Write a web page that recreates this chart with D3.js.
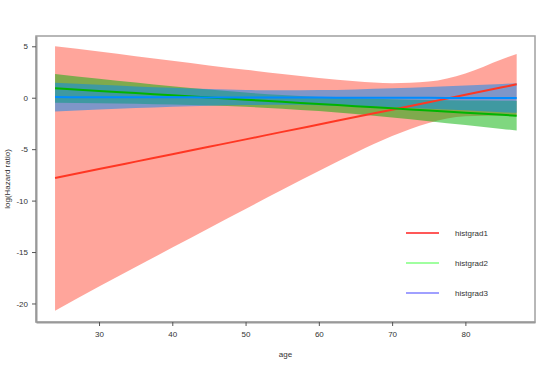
<!DOCTYPE html>
<html>
<head>
<meta charset="utf-8">
<script src="https://cdn.jsdelivr.net/npm/d3@7"></script>
<style>
  body { margin: 0; background: #fff; }
  text { font-family: "Liberation Sans", Arial, sans-serif; fill: #333; }
</style>
</head>
<body>
<div id="chart"></div>
<script>
// ages where the curves were read
const ages = [24, 30, 35, 40, 45, 50, 55, 60, 65, 70, 75, 80, 85, 87];

// histgrad1
const fit1 = [-7.8, -6.93, -6.21, -5.49, -4.77, -4.05, -3.32, -2.6, -1.88, -1.16, -0.44, 0.28, 1.01, 1.3];
const up1 = [5.0, 4.5, 4.04, 3.59, 3.14, 2.71, 2.3, 1.92, 1.59, 1.41, 1.57, 2.36, 3.74, 4.25];
const lo1 = [-20.7, -18.36, -16.46, -14.57, -12.68, -10.81, -8.94, -7.12, -5.35, -3.73, -2.45, -1.8, -1.72, -1.7];

// histgrad2
const fit2 = [0.91, 0.66, 0.45, 0.23, 0.02, -0.19, -0.4, -0.61, -0.82, -1.03, -1.25, -1.45, -1.66, -1.75];
const up2 = [2.31, 1.85, 1.48, 1.12, 0.79, 0.5, 0.26, 0.08, -0.05, -0.14, -0.22, -0.26, -0.29, -0.32];
const lo2 = [-0.49, -0.54, -0.58, -0.66, -0.75, -0.88, -1.06, -1.3, -1.59, -1.92, -2.28, -2.65, -3.03, -3.18];

// histgrad3
const fit3 = [0.06, 0.05, 0.04, 0.04, 0.03, 0.02, 0.02, 0.01, 0.0, 0.0, -0.01, -0.02, -0.03, -0.03];
const up3 = [1.46, 1.25, 1.09, 0.96, 0.84, 0.75, 0.72, 0.74, 0.81, 0.92, 1.04, 1.18, 1.34, 1.4];
const lo3 = [-1.34, -1.15, -1.01, -0.88, -0.78, -0.71, -0.68, -0.72, -0.81, -0.92, -1.06, -1.22, -1.4, -1.46];

const seriesNames = ["histgrad1", "histgrad2", "histgrad3"];
const xTicks = [30, 40, 50, 60, 70, 80];
const yTicks = [5, 0, -5, -10, -15, -20];

const width = 554;
const height = 367;
const plot = { left: 36, right: 535, top: 36, bottom: 322 };

const x = d3.scaleLinear().domain([21.4, 89.5]).range([plot.left, plot.right]);
const y = d3.scaleLinear().domain([-21.8, 6.0]).range([plot.bottom, plot.top]);

const svg = d3.select("#chart").append("svg")
    .attr("width", width)
    .attr("height", height);

const series = [
    { name: seriesNames[0], fit: fit1, up: up1, lo: lo1, fill: "rgb(255,75,55)", line: "rgb(255,55,35)", key: "#ff2020" },
    { name: seriesNames[1], fit: fit2, up: up2, lo: lo2, fill: "rgb(0,175,0)", line: "rgb(0,180,0)", key: "#80ff80" },
    { name: seriesNames[2], fit: fit3, up: up3, lo: lo3, fill: "rgb(0,135,245)", line: "rgb(0,140,255)", key: "#8080ff" },
];

const area = d3.area()
    .x((d) => x(d.age))
    .y0((d) => y(d.lo))
    .y1((d) => y(d.up))
    .curve(d3.curveMonotoneX);

const line = d3.line()
    .x((d) => x(d.age))
    .y((d) => y(d.fit))
    .curve(d3.curveMonotoneX);

//bands
series.forEach((s) => {
    const rows = ages.map((a, i) => ({ age: a, fit: s.fit[i], up: s.up[i], lo: s.lo[i] }));
    s.rows = rows;
    svg.append("path")
        .attr("d", area(rows))
        .attr("fill", s.fill)
        .attr("fill-opacity", 0.5);
});

//fitted lines
series.forEach((s) => {
    svg.append("path")
        .attr("d", line(s.rows))
        .attr("fill", "none")
        .attr("stroke", s.line)
        .attr("stroke-width", 2);
});

//frame
svg.append("rect")
    .attr("x", plot.left)
    .attr("y", plot.top)
    .attr("width", plot.right - plot.left)
    .attr("height", plot.bottom - plot.top)
    .attr("fill", "none")
    .attr("stroke", "#a0a0a0")
    .attr("stroke-width", 1.5);

//axes, plain hyphen for negatives
const fmt = (d) => String(d);
const xAxis = svg.append("g")
    .attr("transform", `translate(0,${plot.bottom})`)
    .call(d3.axisBottom(x).tickValues(xTicks).tickFormat(fmt).tickSize(4).tickSizeOuter(0).tickPadding(5));
const yAxis = svg.append("g")
    .attr("transform", `translate(${plot.left},0)`)
    .call(d3.axisLeft(y).tickValues(yTicks).tickFormat(fmt).tickSize(4).tickSizeOuter(0).tickPadding(4));

[xAxis, yAxis].forEach((g) => {
    g.select(".domain").attr("stroke", "#999").attr("stroke-width", 2);
    g.selectAll(".tick line").attr("stroke", "#555");
    g.selectAll(".tick text").style("font-size", "8px").attr("fill", "#333");
});

//axis titles
svg.append("text")
    .attr("x", (plot.left + plot.right) / 2)
    .attr("y", 357)
    .attr("text-anchor", "middle")
    .style("font-size", "8px")
    .text("age");

svg.append("text")
    .attr("transform", `translate(10,${(plot.top + plot.bottom) / 2}) rotate(-90)`)
    .attr("text-anchor", "middle")
    .style("font-size", "8px")
    .text("log(Hazard ratio)");

//legend
const legend = svg.append("g").attr("transform", "translate(406,233)");
series.forEach((s, i) => {
    const g = legend.append("g").attr("transform", `translate(0,${i * 30})`);
    g.append("line")
        .attr("x1", 0).attr("x2", 33)
        .attr("stroke", s.key)
        .attr("stroke-width", 1.5);
    g.append("text")
        .attr("x", 49)
        .attr("dy", "0.35em")
        .style("font-size", "8px")
        .text(s.name);
});
</script>
</body>
</html>
